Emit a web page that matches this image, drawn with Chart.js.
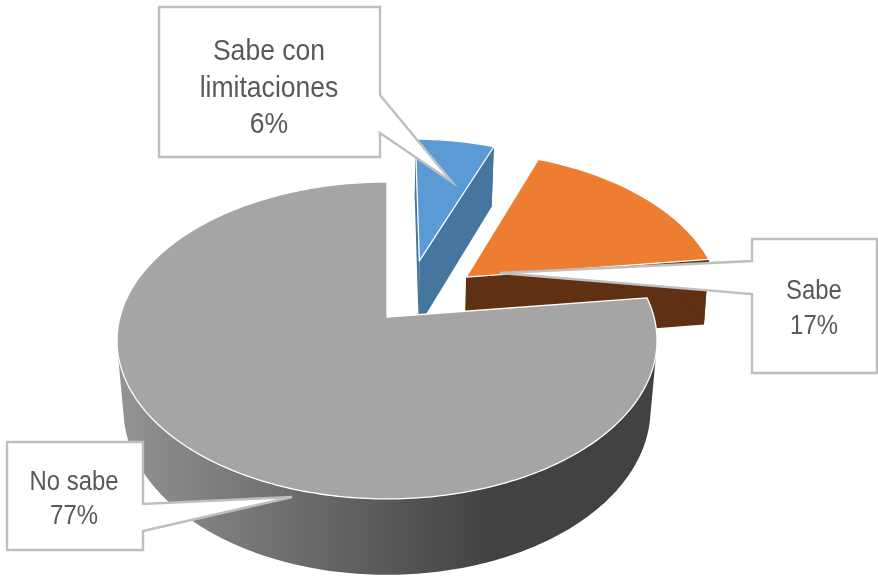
<!DOCTYPE html>
<html lang="es">
<head>
<meta charset="utf-8">
<title>Sabe / No sabe</title>
<script src="https://cdn.jsdelivr.net/npm/chart.js@4"></script>
<style>
  html, body { margin: 0; padding: 0; background: #fff; }
  canvas { display: block; }
</style>
</head>
<body>
<canvas id="pie" width="878" height="576"></canvas>
<script>
// Slices, clockwise from twelve o'clock
const categories = ['Sabe con limitaciones', 'Sabe', 'No sabe'];
const shares = [6, 17, 77];
const topColors = ['#5b9bd5', '#ed7d31', '#a5a5a5'];
const wallColors = ['#46759f', '#5f3112', '#555555'];

// Callout text, split into the lines shown inside each box
const calloutLines = [['Sabe con', 'limitaciones'], ['Sabe'], ['No sabe']];

// Pulled-out distance of each slice, in units of the pie radius on its own plane
const explode = [[0.128, -0.382], [0.308, -0.268], [0, 0]];
// Horizontal foreshortening of the pulled-out slices
const widthScale = [0.95, 0.975, 1];

// Perspective view of the pie plane; the floor shrinks sideways for each slice's depth
const view = { cx: 387, cy: 317, rx: 267, ry: 155, persp: 0.148 };
const floor = { xScale: [0.98, 0.985, 0.976], yScale: 1.045, drop: 67.7 };

// Callout outlines: box corners plus the leader that reaches into the slice
const callouts = [
  { path: [[159,7],[380,7],[380,95],[452,182],[380,133],[380,157],[159,157]],
    x: 269, baselines: [60, 97, 133], size: 30 },
  { path: [[752,239],[877,239],[877,373],[752,373],[752,294],[500,273],[752,261]],
    x: 814, baselines: [299, 334], size: 27 },
  { path: [[7,442],[143,442],[143,504],[292,497],[143,531],[143,550],[7,550]],
    x: 74, baselines: [490, 524], size: 27 }
];

function project(u, v) {
  const d = 1 - view.persp * v;
  return [view.cx + view.rx * u / d, view.cy + view.ry * v / d];
}

function lower(p, i) {
  return [
    view.cx + (p[0] - view.cx) * floor.xScale[i],
    view.cy + (p[1] - view.cy) * floor.yScale + floor.drop
  ];
}

function addPolygon(ctx, pts) {
  pts.forEach((p, i) => i ? ctx.lineTo(p[0], p[1]) : ctx.moveTo(p[0], p[1]));
  ctx.closePath();
}

function trace(ctx, pts) {
  ctx.beginPath();
  addPolygon(ctx, pts);
}

function signedArea(pts) {
  return pts.reduce((sum, p, i) => {
    const q = pts[(i + 1) % pts.length];
    return sum + p[0] * q[1] - q[0] * p[1];
  }, 0);
}

const pie3d = {
  id: 'pie3d',
  // The arc elements supply each slice's angles; they are laid on a tilted plane here
  beforeDatasetsDraw(chart) {
    const ctx = chart.ctx;
    const arcs = chart.getDatasetMeta(0).data;

    ctx.save();
    ctx.lineJoin = 'round';
    arcs.forEach((arc, i) => {
      const [ou, ov] = explode[i];
      const apex = project(ou, ov);
      const rim = [];
      const steps = Math.ceil((arc.endAngle - arc.startAngle) * 60);
      for (let s = 0; s <= steps; s++) {
        const a = arc.startAngle + (arc.endAngle - arc.startAngle) * s / steps;
        rim.push(project(ou + widthScale[i] * Math.cos(a), ov + Math.sin(a)));
      }

      // Cut faces
      ctx.fillStyle = wallColors[i];
      [rim[0], rim[rim.length - 1]].forEach(edge => {
        trace(ctx, [apex, edge, lower(edge, i), lower(apex, i)]);
        ctx.fill();
      });

      // Outer wall: strips share one path, all wound the same way, so no seams show.
      // The large slice is shaded from left to right.
      let wall = wallColors[i];
      if (i === 2) {
        wall = ctx.createLinearGradient(118, 0, 490, 0);
        wall.addColorStop(0, '#939393');
        wall.addColorStop(1, '#424242');
      }
      ctx.beginPath();
      for (let s = 0; s < rim.length - 1; s++) {
        const strip = [rim[s], rim[s + 1], lower(rim[s + 1], i), lower(rim[s], i)];
        if (signedArea(strip) < 0) strip.reverse();
        addPolygon(ctx, strip);
      }
      ctx.fillStyle = wall;
      ctx.fill();

      // Top face
      trace(ctx, [apex].concat(rim));
      ctx.fillStyle = topColors[i];
      ctx.fill();
      ctx.strokeStyle = '#ffffff';
      ctx.lineWidth = 1.3;
      ctx.stroke();
    });

    // Callouts
    callouts.forEach((box, i) => {
      trace(ctx, box.path);
      ctx.fillStyle = '#ffffff';
      ctx.fill();
      ctx.strokeStyle = '#bfbfbf';
      ctx.lineWidth = 2.4;
      ctx.lineJoin = 'miter';
      ctx.stroke();

      const lines = calloutLines[i].concat(shares[i] + '%');
      ctx.fillStyle = '#595959';
      ctx.font = box.size + 'px "Liberation Sans"';
      ctx.textAlign = 'center';
      ctx.textBaseline = 'alphabetic';
      lines.forEach((line, n) => {
        ctx.save();
        ctx.translate(box.x, box.baselines[n]);
        ctx.scale(0.885, 1);
        ctx.fillText(line, 0, 0);
        ctx.restore();
      });
    });
    ctx.restore();
    return false;
  }
};

new Chart(document.getElementById('pie'), {
  type: 'pie',
  data: {
    labels: categories,
    datasets: [{ data: shares, backgroundColor: topColors, borderWidth: 0 }]
  },
  options: {
    responsive: false,
    animation: false,
    plugins: { legend: { display: false }, tooltip: { enabled: false } }
  },
  plugins: [pie3d]
});
</script>
</body>
</html>
